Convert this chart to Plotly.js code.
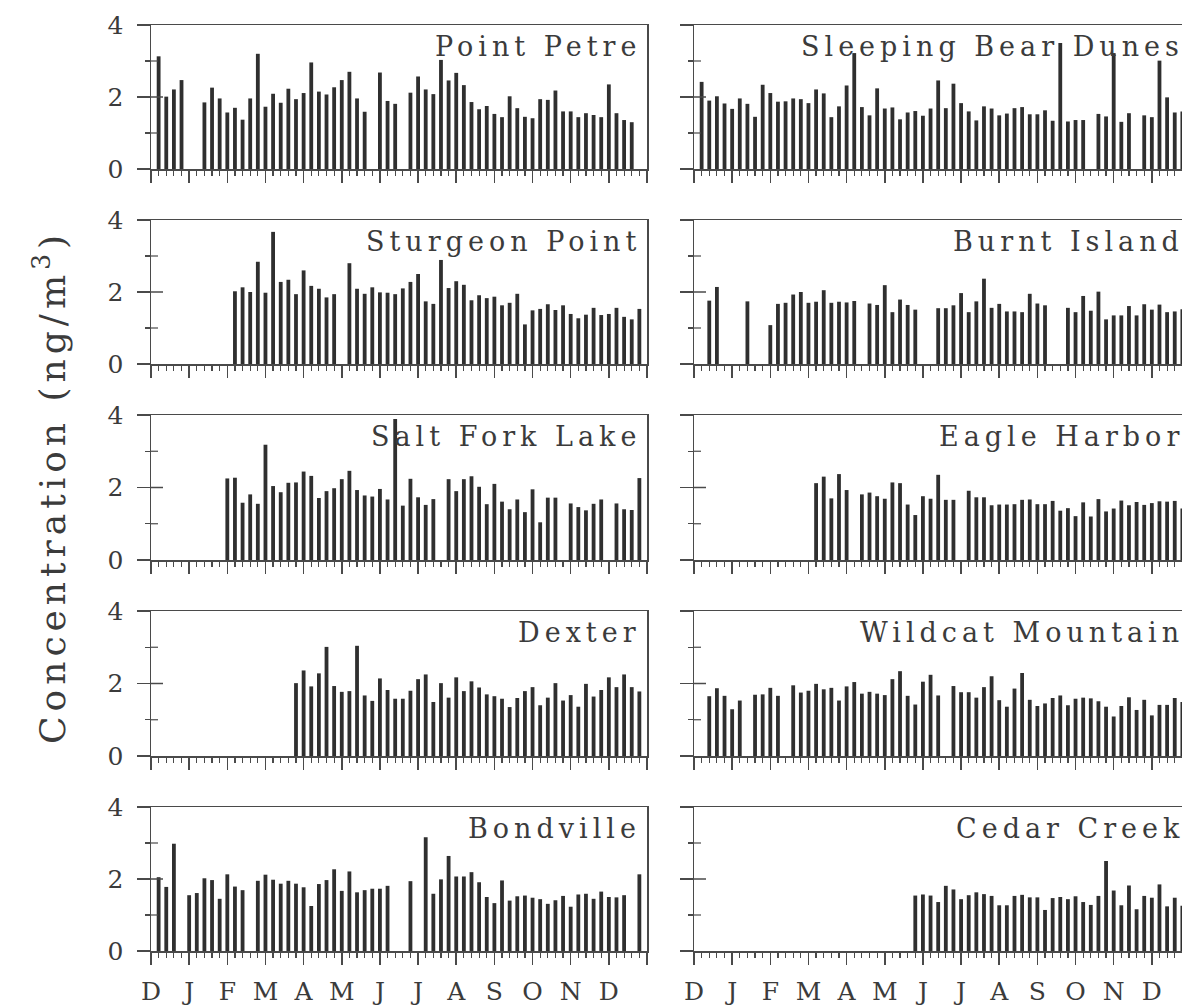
<!DOCTYPE html>
<html>
<head>
<meta charset="utf-8">
<script src="https://cdn.plot.ly/plotly-3.0.1.min.js"></script>
<style>
html,body{margin:0;padding:0;overflow:hidden;background:#ffffff;}
#chart{width:1200px;height:1006px;}
.annotation-text{letter-spacing:5px;}
</style>
</head>
<body>
<div id="chart"></div>
<script>
// ---- data: weekly sample index (1..64) and concentrations (ng/m3); null = no sample ----
const weekIndex = [1,2,3,4,5,6,7,8,9,10,11,12,13,14,15,16,17,18,19,20,21,22,23,24,25,26,27,28,29,30,31,32,33,34,35,36,37,38,39,40,41,42,43,44,45,46,47,48,49,50,51,52,53,54,55,56,57,58,59,60,61,62,63,64];

const monthTickPos = [0,5,10,15,20,25,30,35,40,45,50,55,60,65];
const monthLabels = ["D","J","F","M","A","M","J","J","A","S","O","N","D"," "];

const pointPetre = [3.13,2.01,2.21,2.47,null,null,1.85,2.26,1.96,1.57,
  1.70,1.37,1.96,3.20,1.73,2.09,1.84,2.23,1.94,2.11,
  2.96,2.15,2.07,2.27,2.47,2.70,1.96,1.59,null,2.68,
  1.89,1.81,null,2.12,2.57,2.21,2.08,3.03,2.46,2.67,
  2.33,1.86,1.66,1.75,1.53,1.44,2.02,1.69,1.45,1.41,
  1.94,1.92,2.18,1.60,1.60,1.44,1.55,1.50,1.44,2.35,
  1.55,1.36,1.30,null];

const sleepingBearDunes = [2.42,1.90,2.02,1.82,1.67,1.96,1.81,1.45,2.34,2.11,
  1.87,1.88,1.96,1.94,1.83,2.21,2.10,1.44,1.74,2.32,
  3.22,1.72,1.49,2.24,1.68,1.71,1.38,1.57,1.61,1.48,
  1.68,2.46,1.69,2.37,1.83,1.60,1.35,1.74,1.68,1.49,
  1.54,1.69,1.72,1.52,1.52,1.63,1.34,3.50,1.32,1.36,
  1.36,null,1.53,1.46,3.22,1.31,1.55,null,1.49,1.44,
  3.01,1.99,1.57,1.60];

const sturgeonPoint = [null,null,null,null,null,null,null,null,null,null,
  2.02,2.13,2.00,2.84,1.98,3.67,2.28,2.34,1.94,2.60,
  2.17,2.09,1.85,1.94,null,2.80,2.09,1.95,2.13,1.99,
  1.98,1.94,2.10,2.28,2.50,1.74,1.67,2.89,2.11,2.30,
  2.20,1.77,1.91,1.83,1.87,1.63,1.70,1.95,1.10,1.49,
  1.53,1.66,1.50,1.63,1.39,1.27,1.37,1.56,1.36,1.39,
  1.56,1.31,1.24,1.53];

const burntIsland = [null,1.76,2.14,null,null,null,1.74,null,null,1.08,
  1.67,1.70,1.93,2.00,1.70,1.73,2.05,1.70,1.73,1.71,
  1.75,null,1.68,1.64,2.19,1.44,1.79,1.64,1.51,null,
  null,1.55,1.55,1.63,1.97,1.44,1.74,2.37,1.56,1.67,
  1.46,1.46,1.44,1.95,1.68,1.63,null,null,1.56,1.44,
  1.89,1.48,2.01,1.24,1.35,1.35,1.61,1.35,1.66,1.51,
  1.65,1.44,1.46,1.52];

const saltForkLake = [null,null,null,null,null,null,null,null,null,2.25,
  2.27,1.58,1.81,1.55,3.18,2.04,1.87,2.13,2.14,2.44,
  2.32,1.71,1.90,1.98,2.23,2.46,1.93,1.78,1.75,1.96,
  1.67,3.89,1.50,2.24,1.73,1.52,1.68,null,2.23,1.90,
  2.23,2.31,2.02,1.54,2.10,1.61,1.40,1.67,1.32,1.95,
  1.04,1.72,1.72,null,1.56,1.46,1.37,1.55,1.67,null,
  1.56,1.40,1.38,2.26];

const eagleHarbor = [null,null,null,null,null,null,null,null,null,null,
  null,null,null,null,null,2.12,2.30,1.70,2.37,1.93,
  null,1.81,1.86,1.76,1.69,2.14,2.12,1.53,1.24,1.76,
  1.69,2.35,1.66,1.66,null,1.91,1.73,1.73,1.51,1.53,
  1.53,1.54,1.66,1.67,1.54,1.54,1.63,1.36,1.43,1.21,
  1.59,1.20,1.68,1.34,1.42,1.64,1.51,1.60,1.52,1.57,
  1.62,1.61,1.63,1.42];

const dexter = [null,null,null,null,null,null,null,null,null,null,
  null,null,null,null,null,null,null,null,2.01,2.36,
  1.92,2.28,3.01,1.93,1.77,1.79,3.04,1.67,1.52,2.14,
  1.82,1.58,1.58,1.80,2.12,2.25,1.49,2.01,1.61,2.17,
  1.79,2.06,1.89,1.70,1.65,1.58,1.35,1.60,1.79,1.90,
  1.40,1.61,2.01,1.53,1.68,1.36,1.99,1.64,1.82,2.17,
  1.90,2.25,1.90,1.78];

const wildcatMountain = [null,1.65,1.87,1.66,1.29,1.53,null,1.69,1.70,1.88,
  1.66,null,1.95,1.75,1.80,1.99,1.84,1.88,1.53,1.92,
  2.04,1.72,1.77,1.72,1.68,2.12,2.34,1.66,1.42,2.05,
  2.24,1.67,null,1.93,1.76,1.76,1.61,1.90,2.20,1.54,
  1.36,1.86,2.29,1.55,1.38,1.45,1.60,1.67,1.40,1.58,
  1.61,1.59,1.51,1.36,1.09,1.38,1.62,1.27,1.55,1.12,
  1.41,1.41,1.60,1.49];

const bondville = [2.05,1.78,2.98,null,1.55,1.61,2.02,1.97,1.45,2.13,
  1.79,1.69,null,1.95,2.12,1.98,1.87,1.95,1.87,1.77,
  1.25,1.86,1.97,2.27,1.67,2.21,1.63,1.69,1.73,1.73,
  1.81,null,null,1.94,null,3.16,1.59,1.99,2.64,2.07,
  2.07,2.19,1.91,1.50,1.33,1.96,1.40,1.52,1.54,1.48,
  1.44,1.31,1.41,1.53,1.23,1.57,1.59,1.45,1.65,1.50,
  1.49,1.55,null,2.13];

const cedarCreek = [null,null,null,null,null,null,null,null,null,null,
  null,null,null,null,null,null,null,null,null,null,
  null,null,null,null,null,null,null,null,1.54,1.57,
  1.54,1.36,1.81,1.71,1.44,1.55,1.63,1.58,1.53,1.27,
  1.27,1.53,1.56,1.49,1.49,1.14,1.47,1.50,1.44,1.52,
  1.36,1.28,1.53,2.50,1.68,1.27,1.82,1.16,1.53,1.48,
  1.85,1.24,1.48,1.26];

const stationNames = ["Point Petre","Sleeping Bear Dunes","Sturgeon Point","Burnt Island",
  "Salt Fork Lake","Eagle Harbor","Dexter","Wildcat Mountain","Bondville","Cedar Creek"];
const stationValues = [pointPetre, sleepingBearDunes, sturgeonPoint, burntIsland,
  saltForkLake, eagleHarbor, dexter, wildcatMountain, bondville, cedarCreek];

const yTickVals = [0,2,4];
const yTickText = ["0","2","4"];
const yMinorVals = [1,3];

// ---- layout geometry (pixels) ----
const W = 1200, H = 1006;
const cols = [[151,647],[694,1190]];
const rows = [[25,169],[220,364],[415,560],[611,756],[807,951]];
const ink = "#3b3b3b", lineCol = "#4a4a4a", barCol = "#2f2f2f";
const serif = "DejaVu Serif, serif";

const data = [];
const layout = {
  width: W, height: H,
  margin: {l:0, r:0, t:0, b:0},
  paper_bgcolor: "#ffffff", plot_bgcolor: "#ffffff",
  showlegend: false,
  font: {family: serif, color: ink},
  annotations: [],
  shapes: []
};

stationValues.forEach((vals, i) => {
  const n = i + 1;
  const r = Math.floor(i / 2), c = i % 2;
  const xd = [cols[c][0] / W, cols[c][1] / W];
  const yd = [1 - rows[r][1] / H, 1 - rows[r][0] / H];
  data.push({
    type: "bar", x: weekIndex, y: vals,
    xaxis: "x" + n, yaxis: "y" + n,
    width: 0.5,
    marker: {color: barCol, line: {width: 0}},
    hoverinfo: "skip"
  });
  layout["xaxis" + n] = {
    domain: xd, anchor: "y" + n, range: [0, 65],
    tickmode: "array", tickvals: monthTickPos, ticktext: monthLabels,
    ticks: "outside", ticklen: 12, tickwidth: 1.5, tickcolor: lineCol,
    minor: {tickmode: "linear", tick0: 0, dtick: 1, ticks: "outside", ticklen: 5, tickwidth: 1.2, tickcolor: lineCol},
    showline: true, mirror: true, linecolor: lineCol, linewidth: 1.5,
    showgrid: false, zeroline: false,
    showticklabels: r === 4,
    tickfont: {family: serif, size: 25, color: ink},
    ticklabelstandoff: 5,
    fixedrange: true
  };
  layout["yaxis" + n] = {
    domain: yd, anchor: "x" + n, range: [0, 4],
    tickmode: "array", tickvals: yTickVals, ticktext: yTickText,
    ticks: "outside", ticklen: 13, tickwidth: 1.5, tickcolor: lineCol,
    minor: {tickmode: "array", tickvals: yMinorVals, ticks: "outside", ticklen: 5, tickwidth: 1.2, tickcolor: lineCol},
    showline: true, mirror: true, linecolor: lineCol, linewidth: 1.5,
    showgrid: false, zeroline: false,
    showticklabels: c === 0,
    tickfont: {family: serif, size: 25, color: ink},
    ticklabelstandoff: 8,
    fixedrange: true
  };
  // inner halves of the crossing y ticks (the y-axis ticks cross the axis line)
  yTickVals.concat(yMinorVals).forEach(v => {
    if (v === 0 || v === 4) return;
    const major = yTickVals.indexOf(v) >= 0;
    layout.shapes.push({
      type: "line", layer: "above",
      xref: "x" + n + " domain", xsizemode: "pixel", xanchor: 0,
      x0: 0, x1: major ? 12 : 7,
      yref: "y" + n, y0: v, y1: v,
      line: {color: lineCol, width: major ? 1.5 : 1.2}
    });
  });
  layout.annotations.push({
    text: stationNames[i],
    xref: "x" + n + " domain", yref: "y" + n + " domain",
    x: 1, y: 1, xanchor: "right", yanchor: "top",
    xshift: -4, yshift: -4,
    showarrow: false,
    font: {family: serif, size: 27, color: ink}
  });
});

layout.annotations.push({
  text: "Concentration (ng/m<sup>3</sup>)",
  xref: "paper", yref: "paper",
  x: 50 / W, y: 1 - 487 / H,
  xanchor: "center", yanchor: "middle",
  textangle: -90, showarrow: false,
  font: {family: serif, size: 36, color: ink}
});

Plotly.newPlot("chart", data, layout, {staticPlot: true, displayModeBar: false});
</script>
</body>
</html>
